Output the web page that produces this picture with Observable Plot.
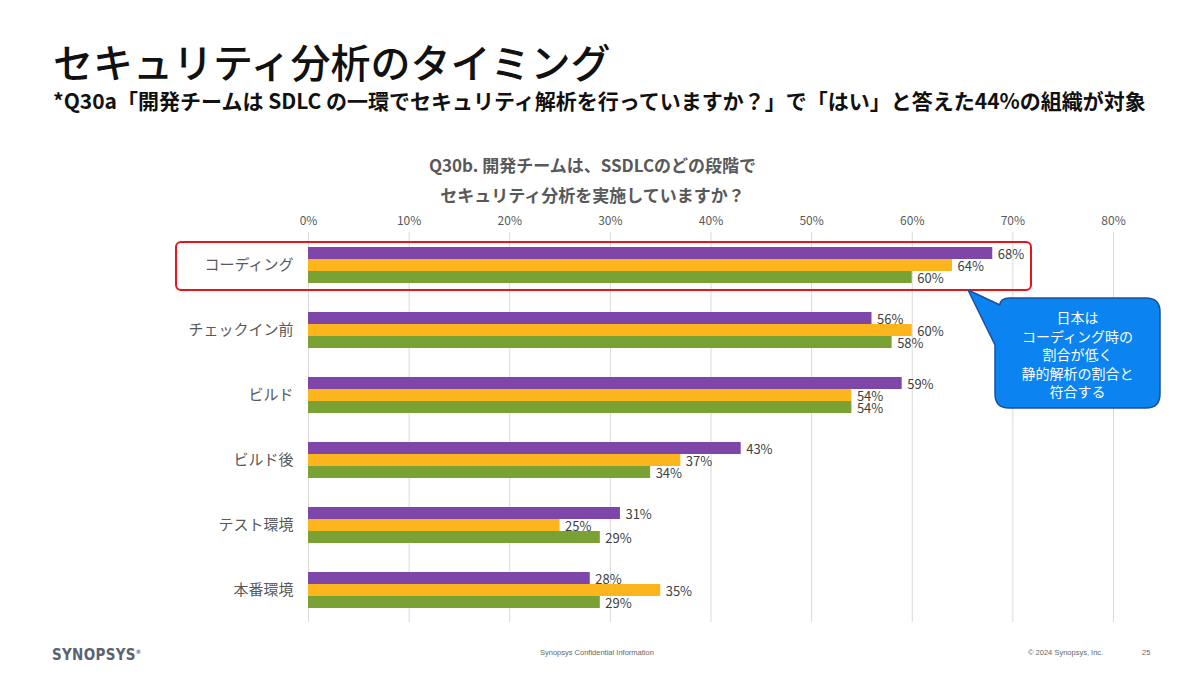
<!DOCTYPE html>
<html><head><meta charset="utf-8">
<script src="https://cdn.jsdelivr.net/npm/d3@7"></script>
<script src="https://cdn.jsdelivr.net/npm/@observablehq/plot@0.6"></script>
<style>
html,body{margin:0;padding:0}
body{width:1200px;height:675px;position:relative;background:#fff;overflow:hidden;font-family:"Noto Sans CJK JP","Noto Sans",sans-serif}
.abs{position:absolute;white-space:nowrap}
#title{left:53px;top:38px;font-size:40px;color:#111;font-weight:500;line-height:46px}
#subtitle{left:53px;top:87px;font-size:21px;color:#111;font-weight:700;line-height:26px}
#ctitle{left:0;width:1185px;top:150px;text-align:center;font-size:17px;font-weight:700;color:#595959;line-height:30px}
#chart{position:absolute;left:0;top:190px}
#hl{position:absolute;left:175px;top:241px;width:853px;height:46px;border:2.5px solid #E8141C;border-radius:6px}
#callout{position:absolute;left:0;top:0}
#calltext{left:995px;top:308px;width:165px;text-align:center;color:#fff;font-size:14px;line-height:18.6px}
#logo{left:52px;top:646px;font-family:"Liberation Sans Narrow","DejaVu Sans Condensed",sans-serif;font-weight:700;font-size:15px;color:#5B6275;letter-spacing:0.3px}
.foot{top:648px;font-size:7.5px;color:#666;font-family:"Liberation Sans Narrow","Liberation Sans",sans-serif}
</style></head><body>
<div id="title" class="abs">セキュリティ分析のタイミング</div>
<div id="subtitle" class="abs">*Q30a「開発チームは SDLC の一環でセキュリティ解析を行っていますか？」で「はい」と答えた44%の組織が対象</div>
<div id="ctitle" class="abs">Q30b. 開発チームは、SSDLCのどの段階で<br>セキュリティ分析を実施していますか？</div>
<div id="chart"></div>
<div id="hl"></div>
<svg id="callout" width="1200" height="675">
  <path d="M968,290 L1000,305 Q1000,298 1010,298 L1146,298 Q1160,298 1160,312 L1160,394 Q1160,408 1146,408 L1009,408 Q995,408 995,394 L995,345 Z" fill="#0B84F2" stroke="#1E4F9C" stroke-width="1.5" stroke-linejoin="round"/>
</svg>
<div id="calltext" class="abs">日本は<br>コーディング時の<br>割合が低く<br>静的解析の割合と<br>符合する</div>
<div id="logo" class="abs">SYNOPSYS<sup style="font-size:6px">®</sup></div>
<div class="abs foot" style="left:540px">Synopsys Confidential Information</div>
<div class="abs foot" style="left:1028px">© 2024 Synopsys, Inc.</div>
<div class="abs foot" style="left:1142px">25</div>
<script>
const categories = ["コーディング","チェックイン前","ビルド","ビルド後","テスト環境","本番環境"];
const seriesNames = ["系列1","系列2","系列3"];
const series1 = [68,56,59,43,31,28];
const series2 = [64,60,54,37,25,35];
const series3 = [60,58,54,34,29,29];
const seriesColors = ["#7E46A8","#FCB51D","#7AA133"];
const xTicks = [0,10,20,30,40,50,60,70,80];

const allSeries = [series1, series2, series3];
const data = categories.flatMap((c, i) => allSeries.map((s, j) => ({category: c, series: seriesNames[j], value: s[i]})));

const chart = Plot.plot({
  width: 1200,
  height: 442,
  marginLeft: 308,
  marginRight: 87,
  marginTop: 42,
  marginBottom: 10,
  style: {fontFamily: '"Noto Sans CJK JP", sans-serif', color: "#595959", background: "transparent"},
  x: {domain: [0, 80]},
  y: {domain: seriesNames, paddingInner: 0, paddingOuter: 1.1, axis: null},
  fy: {domain: categories, padding: 0},
  color: {domain: seriesNames, range: seriesColors},
  marks: [
    Plot.gridX(xTicks, {stroke: "#d9d9d9", strokeOpacity: 1, strokeWidth: 1}),
    Plot.axisX({anchor: "top", ticks: xTicks, tickFormat: d => d + "%", tickSize: 0, tickPadding: 8, fontSize: 12, label: null}),
    Plot.axisFy({anchor: "left", tickSize: 0, tickPadding: 15, fontSize: 15, label: null}),
    Plot.barX(data, {x: "value", y: "series", fy: "category", fill: "series"}),
    Plot.text(data, {x: "value", y: "series", fy: "category", text: d => d.value + "%", textAnchor: "start", dx: 5, dy: 1, fontSize: 13, fill: "#404040"})
  ]
});
document.getElementById("chart").appendChild(chart);
</script>
</body></html>
